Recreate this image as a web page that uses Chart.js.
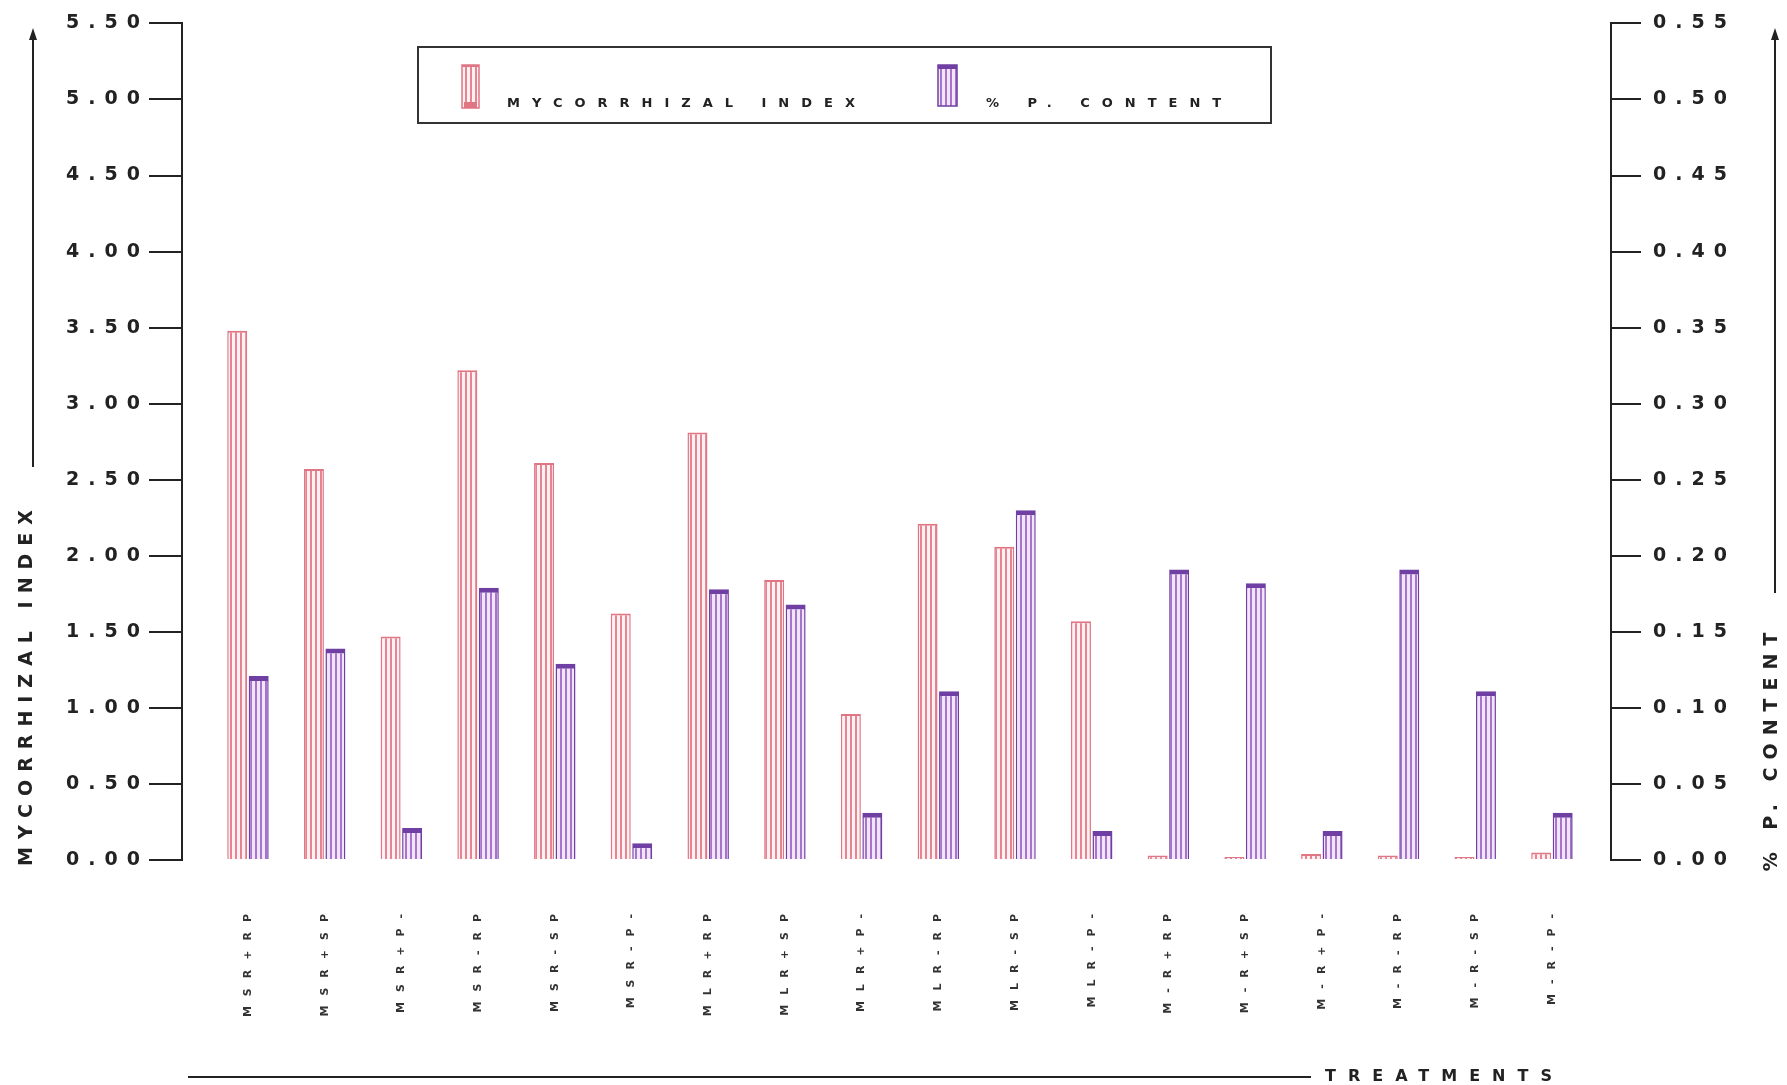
<!DOCTYPE html>
<html><head><meta charset="utf-8">
<script src="https://cdn.jsdelivr.net/npm/chart.js@4.4.1/dist/chart.umd.min.js"></script>
<style>html,body{margin:0;padding:0;background:#fff;} canvas{display:block;}</style>
</head><body>
<canvas id="c" width="1787" height="1085"></canvas>
<script>
const categories = ['MSR+RP','MSR+SP','MSR+P-','MSR-RP','MSR-SP','MSR-P-','MLR+RP','MLR+SP','MLR+P-','MLR-RP','MLR-SP','MLR-P-','M-R+RP','M-R+SP','M-R+P-','M-R-RP','M-R-SP','M-R-P-'];
const mycorrhizalIndex = [3.48,2.57,1.47,3.22,2.61,1.62,2.81,1.84,0.96,2.21,2.06,1.57,0.03,0.02,0.04,0.03,0.02,0.05];
const pContent = [0.121,0.139,0.021,0.179,0.129,0.011,0.178,0.168,0.031,0.111,0.230,0.019,0.191,0.182,0.019,0.191,0.111,0.031];
const leftAxis = {min:0, max:5.5, step:0.5};
const rightAxis = {min:0, max:0.55, step:0.05};
const seriesLabels = ['MYCORRHIZAL INDEX','% P. CONTENT'];
const leftTitle = 'MYCORRHIZAL INDEX';
const rightTitle = '% P. CONTENT';
const xTitle = 'TREATMENTS';

const canvas = document.getElementById('c');
const ctx0 = canvas.getContext('2d');
function stripes(line, bg, period, lw){
  const c = document.createElement('canvas'); c.width = period; c.height = 8;
  const g = c.getContext('2d');
  g.fillStyle = bg; g.fillRect(0,0,period,8);
  g.fillStyle = line; g.fillRect(0,0,lw,8);
  return ctx0.createPattern(c,'repeat');
}
const redPat = stripes('#e68591','#fdf1f3',5,2);
const purPat = stripes('#a873cc','#f1e6f8',5,2);
const redBorder = '#e07584';
const purBorder = '#6f3fa3';

const deco = {
  id:'deco',
  beforeLayout(chart){ chart.ctx.letterSpacing = '9px'; },
  beforeDraw(chart){
    const c = chart.ctx;
    c.save(); c.letterSpacing='0px'; c.fillStyle='#fff'; c.fillRect(0,0,chart.width,chart.height); c.restore();
    c.letterSpacing = '9px';
  },
  afterDatasetsDraw(chart){ chart.ctx.letterSpacing = '10px'; },
  afterDraw(chart){
    const c = chart.ctx;
    c.save();
    c.fillStyle = '#222'; c.strokeStyle = '#222';
    // left title + arrow
    c.font = 'bold 19px "DejaVu Sans"';
    c.letterSpacing = '8px';
    c.save(); c.translate(27, 684); c.rotate(-Math.PI/2);
    c.textAlign='center'; c.textBaseline='middle'; c.fillText(leftTitle,0,0); c.restore();
    c.lineWidth = 2;
    c.beginPath(); c.moveTo(33,467); c.lineTo(33,36); c.stroke();
    c.beginPath(); c.moveTo(33,28); c.lineTo(29,40); c.lineTo(37,40); c.closePath(); c.fill();
    // right title + arrow
    c.save(); c.translate(1772, 748); c.rotate(-Math.PI/2);
    c.textAlign='center'; c.textBaseline='middle'; c.fillText(rightTitle,0,0); c.restore();
    c.beginPath(); c.moveTo(1775,593); c.lineTo(1775,36); c.stroke();
    c.beginPath(); c.moveTo(1775,28); c.lineTo(1771,40); c.lineTo(1779,40); c.closePath(); c.fill();
    // bottom line + x title
    c.beginPath(); c.moveTo(188,1077); c.lineTo(1311,1077); c.stroke();
    c.font = 'bold 16px "DejaVu Sans"'; c.letterSpacing = '12px';
    c.textAlign='left'; c.textBaseline='alphabetic'; c.fillText(xTitle,1325,1081);
    // legend
    c.lineWidth = 2; c.strokeStyle = '#333';
    c.strokeRect(418,47,853,76);
    const ds = chart.data.datasets;
    const sw = [{x:462,y:65,w:17,h:43,p:redPat,b:redBorder,tx:507},{x:938,y:65,w:19,h:41,p:purPat,b:purBorder,tx:986}];
    c.font = 'bold 13px "DejaVu Sans"'; c.letterSpacing = '12px';
    sw.forEach((s,i)=>{
      c.fillStyle = s.p; c.fillRect(s.x,s.y,s.w,s.h);
      c.strokeStyle = s.b; c.lineWidth = 1.5; c.strokeRect(s.x,s.y,s.w,s.h);
      c.fillStyle = s.b; c.fillRect(s.x, s.y, s.w, i===1?4:2);
      if (i===0) { c.fillRect(s.x+2, s.y+s.h-6, s.w-4, 6); }
      c.fillStyle = '#222';
      c.fillText(ds[i].label, s.tx, 107);
    });
    c.restore();
    c.letterSpacing = '0px';
  }
};

const chart = new Chart(canvas, {
  type:'bar',
  data:{
    datasets:[
      {label:seriesLabels[0], data:categories.map((k,i)=>({x:i,y:mycorrhizalIndex[i]})), yAxisID:'y',
       backgroundColor:redPat, borderColor:redBorder, borderWidth:{top:2,left:1.5,right:1.5,bottom:0}, borderSkipped:false,
       categoryPercentage:0.56, barPercentage:0.93},
      {label:seriesLabels[1], data:categories.map((k,i)=>({x:i,y:pContent[i]})), yAxisID:'y1',
       backgroundColor:purPat, borderColor:purBorder, borderWidth:{top:5,left:1.5,right:1.5,bottom:0}, borderSkipped:false,
       categoryPercentage:0.56, barPercentage:0.93}
    ]
  },
  options:{
    responsive:false, animation:false, devicePixelRatio:1,
    layout:{padding:{top:23,left:0,right:0,bottom:0}},
    plugins:{legend:{display:false}, tooltip:{enabled:false}},
    scales:{
      x:{type:'linear', min:-0.86, max:17.77, offset:false,
         grid:{display:false}, border:{display:false},
         afterFit(s){ s.height = 225; },
         ticks:{stepSize:1, autoSkip:false, includeBounds:false, minRotation:90, maxRotation:90, padding:36, z:1,
           color:'#333', font:{family:'DejaVu Sans', weight:'bold', size:11},
           callback:(v)=> categories[v] !== undefined ? categories[v] : ''}},
      y:{position:'left', min:leftAxis.min, max:leftAxis.max,
         afterFit(s){ s.width = 182; },
         grid:{drawOnChartArea:false, tickLength:33, color:'#222', lineWidth:2},
         border:{display:true, color:'#222', width:2},
         ticks:{stepSize:leftAxis.step, padding:0, color:'#222', font:{family:'DejaVu Sans', weight:'bold', size:19},
           callback:(v)=>Number(v).toFixed(2)}},
      y1:{position:'right', min:rightAxis.min, max:rightAxis.max,
         afterFit(s){ s.width = 176; },
         grid:{drawOnChartArea:false, tickLength:30, color:'#222', lineWidth:2},
         border:{display:true, color:'#222', width:2},
         ticks:{stepSize:rightAxis.step, padding:12, color:'#222', font:{family:'DejaVu Sans', weight:'bold', size:19},
           callback:(v)=>Number(v).toFixed(2)}}
    }
  },
  plugins:[deco]
});
</script>
</body></html>
